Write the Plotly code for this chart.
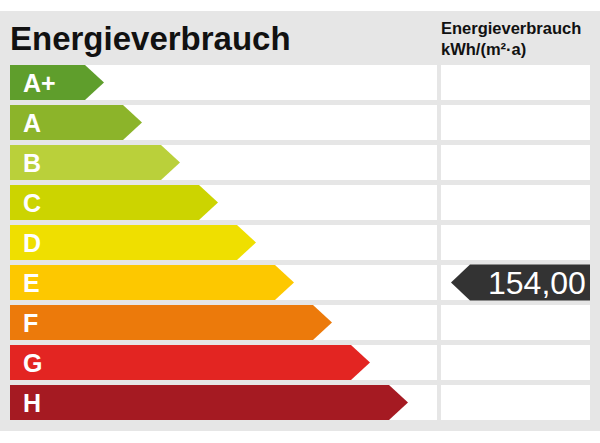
import plotly.graph_objects as go

# =========================
# DATA
# =========================
classes = ["A+", "A", "B", "C", "D", "E", "F", "G", "H"]
colors = ["#5f9e2c", "#8cb42a", "#bad03a", "#ccd400", "#efdf00",
          "#fdc800", "#ec7a0b", "#e32522", "#a51a22"]
# upper limits in kWh/(m²·a) for A+ .. G, H is everything above
limits = [30, 50, 75, 100, 130, 160, 200, 250]
value = 154.00

title = "Energieverbrauch"
unit_header = "Energieverbrauch<br>kWh/(m²·a)"

# =========================
# LAYOUT HELPERS
# =========================
W, H = 600, 443
ROW_PITCH = 40          # px per row
ROW0 = 82.5             # px centre of first row
HALF = 17.5 / ROW_PITCH # half row height in row units
FONT = "Liberation Sans, Arial, sans-serif"


def py(px):
    # pixel -> row units
    return (px - ROW0) / ROW_PITCH


def value_class(v):
    for i, lim in enumerate(limits):
        if v < lim:
            return i
    return len(classes) - 1


fig = go.Figure()
shapes = []
annotations = []

# grey card
shapes.append(dict(type="rect", x0=0, x1=W, y0=py(11), y1=py(431),
                   fillcolor="#e6e6e6", line_width=0, layer="below"))

for i, (cls, col) in enumerate(zip(classes, colors)):
    # white cells
    shapes.append(dict(type="rect", x0=10, x1=437, y0=i - HALF, y1=i + HALF,
                       fillcolor="white", line_width=0, layer="below"))
    shapes.append(dict(type="rect", x0=441, x1=590, y0=i - HALF, y1=i + HALF,
                       fillcolor="white", line_width=0, layer="below"))

    body = 85 + 38 * i
    tip = body + 19
    fig.add_trace(go.Scatter(
        x=[10, body, tip, body, 10, 10],
        y=[i - HALF, i - HALF, i, i + HALF, i + HALF, i - HALF],
        mode="lines", fill="toself", fillcolor=col,
        line=dict(width=0, color=col), hoverinfo="skip", showlegend=False
    ))
    annotations.append(dict(
        x=21, y=i, xref="x", yref="y", text=f"<b>{cls}</b>",
        showarrow=False, xanchor="left", yanchor="middle",
        font=dict(family=FONT, size=25, color="white")
    ))

# =========================
# VALUE MARKER
# =========================
k = value_class(value)
mh = 18 / ROW_PITCH
fig.add_trace(go.Scatter(
    x=[451, 470, 590, 590, 470, 451],
    y=[k, k - mh, k - mh, k + mh, k + mh, k],
    mode="lines", fill="toself", fillcolor="#333333",
    line=dict(width=0, color="#333333"), hoverinfo="skip", showlegend=False
))
annotations.append(dict(
    x=588, y=k + 0.02, xref="x", yref="y",
    text=f"{value:.2f}".replace(".", ","),
    showarrow=False, xanchor="right", yanchor="middle",
    font=dict(family=FONT, size=32, color="white")
))

# =========================
# HEADERS
# =========================
annotations.append(dict(
    x=8, y=py(38.5), xref="x", yref="y", text=f"<b>{title}</b>",
    showarrow=False, xanchor="left", yanchor="middle",
    font=dict(family=FONT, size=33, color="#111111")
))
annotations.append(dict(
    x=439, y=py(38), xref="x", yref="y", text=f"<b>{unit_header}</b>",
    showarrow=False, xanchor="left", yanchor="middle", align="left",
    font=dict(family=FONT, size=16.5, color="#111111")
))

fig.update_layout(
    width=W, height=H,
    margin=dict(l=0, r=0, t=0, b=0),
    paper_bgcolor="white", plot_bgcolor="white",
    xaxis=dict(range=[0, W], visible=False, fixedrange=True),
    yaxis=dict(range=[py(H), py(0)], visible=False, fixedrange=True),
    shapes=shapes, annotations=annotations,
    showlegend=False
)

# page body has a default 8px margin, drop it so the card sits at 0,0
fig.write_html("out.html", config={"displayModeBar": False},
               post_script="document.body.style.margin='0';")
